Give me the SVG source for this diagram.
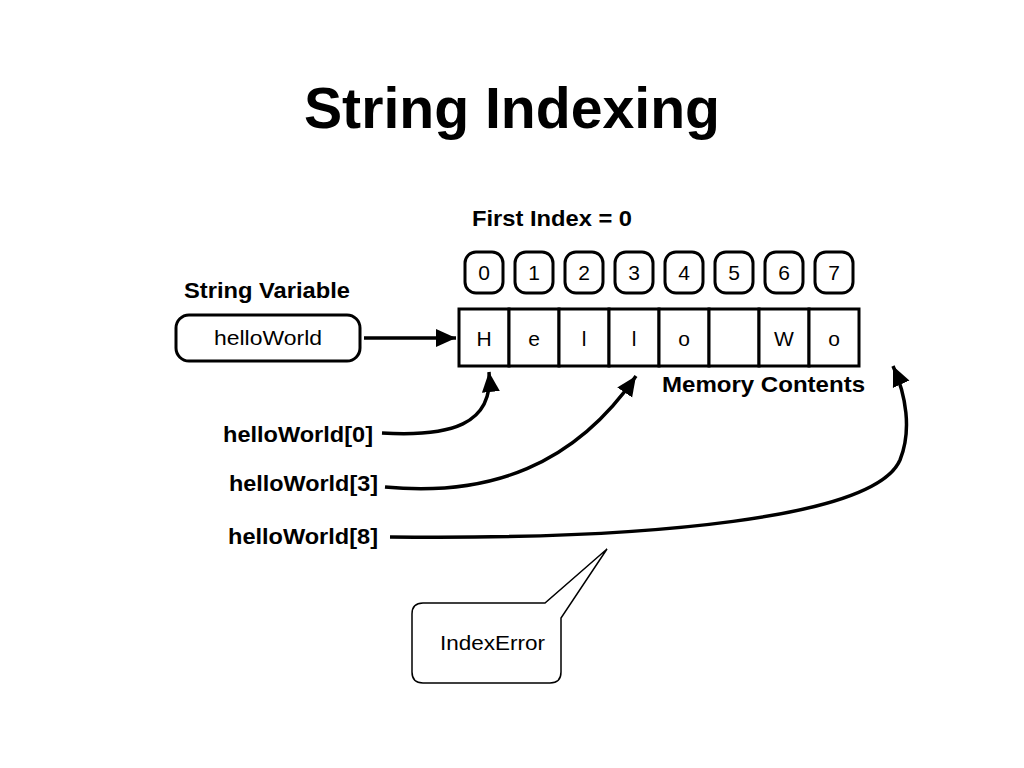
<svg xmlns="http://www.w3.org/2000/svg" width="1024" height="768" viewBox="0 0 1024 768">
<defs>
<style>
text{font-family:"Liberation Sans",Arial,sans-serif;fill:#000}
.b{font-weight:bold;font-size:22px}
.r{font-size:21px}
.c{text-anchor:middle}
.idx{fill:#fff;stroke:#000;stroke-width:3}
.cell{fill:#fff;stroke:#000;stroke-width:3}
.con{fill:none;stroke:#000;stroke-width:3.5}
</style>
<marker id="ah" markerUnits="userSpaceOnUse" markerWidth="22" markerHeight="22" viewBox="0 0 22 22" refX="20" refY="11" orient="auto">
<path d="M0,2 L20,11 L0,20 Z" fill="#000"/>
</marker>
</defs>
<rect width="1024" height="768" fill="#fff"/>
<text x="304" y="128" style="font-weight:bold;font-size:57px" textLength="416" lengthAdjust="spacingAndGlyphs">String Indexing</text>
<text x="472" y="226" class="b" textLength="160" lengthAdjust="spacingAndGlyphs">First Index = 0</text>
<text x="184" y="298" class="b" textLength="166" lengthAdjust="spacingAndGlyphs">String Variable</text>
<text x="662" y="392" class="b" textLength="203" lengthAdjust="spacingAndGlyphs">Memory Contents</text>

<g id="indices">
<rect class="idx" x="465" y="252" width="38" height="41" rx="11"/>
<rect class="idx" x="515" y="252" width="38" height="41" rx="11"/>
<rect class="idx" x="565" y="252" width="38" height="41" rx="11"/>
<rect class="idx" x="615" y="252" width="38" height="41" rx="11"/>
<rect class="idx" x="665" y="252" width="38" height="41" rx="11"/>
<rect class="idx" x="715" y="252" width="38" height="41" rx="11"/>
<rect class="idx" x="765" y="252" width="38" height="41" rx="11"/>
<rect class="idx" x="815" y="252" width="38" height="41" rx="11"/>
<text class="r c" x="484" y="280">0</text>
<text class="r c" x="534" y="280">1</text>
<text class="r c" x="584" y="280">2</text>
<text class="r c" x="634" y="280">3</text>
<text class="r c" x="684" y="280">4</text>
<text class="r c" x="734" y="280">5</text>
<text class="r c" x="784" y="280">6</text>
<text class="r c" x="834" y="280">7</text>
</g>

<g id="memory">
<rect class="cell" x="459" y="309" width="50" height="57"/>
<rect class="cell" x="509" y="309" width="50" height="57"/>
<rect class="cell" x="559" y="309" width="50" height="57"/>
<rect class="cell" x="609" y="309" width="50" height="57"/>
<rect class="cell" x="659" y="309" width="50" height="57"/>
<rect class="cell" x="709" y="309" width="50" height="57"/>
<rect class="cell" x="759" y="309" width="50" height="57"/>
<rect class="cell" x="809" y="309" width="50" height="57"/>
<text class="r c" x="484" y="346">H</text>
<text class="r c" x="534" y="346">e</text>
<text class="r c" x="584" y="346">l</text>
<text class="r c" x="634" y="346">l</text>
<text class="r c" x="684" y="346">o</text>
<text class="r c" x="784" y="346">W</text>
<text class="r c" x="834" y="346">o</text>
</g>

<g id="variable">
<rect x="176" y="315" width="184" height="46" rx="13" fill="#fff" stroke="#000" stroke-width="3"/>
<text class="r" x="214" y="345" textLength="108" lengthAdjust="spacingAndGlyphs">helloWorld</text>
</g>

<g id="labels">
<text class="b" x="223" y="442" textLength="150" lengthAdjust="spacingAndGlyphs">helloWorld[0]</text>
<text class="b" x="229" y="491" textLength="149" lengthAdjust="spacingAndGlyphs">helloWorld[3]</text>
<text class="b" x="228" y="544" textLength="150" lengthAdjust="spacingAndGlyphs">helloWorld[8]</text>
</g>

<g id="callout">
<path d="M423,603 L545,603 L607,549 L561,618 L561,672 Q561,683 550,683 L423,683 Q412,683 412,672 L412,614 Q412,603 423,603 Z" fill="#fff" stroke="#000" stroke-width="1.5"/>
<text class="r" x="440" y="650" textLength="105" lengthAdjust="spacingAndGlyphs">IndexError</text>
</g>

<g id="connectors">
<path class="con" d="M364,338 L456,338" marker-end="url(#ah)"/>
<path class="con" d="M382,433 C450,437 494,425 489,372" marker-end="url(#ah)"/>
<path class="con" d="M385,487 C490,497 575,465 636,376" marker-end="url(#ah)"/>
<path class="con" d="M390,537 C650,540 875,518 900,460 C912,430 906,395 893,366" marker-end="url(#ah)"/>
</g>
</svg>
